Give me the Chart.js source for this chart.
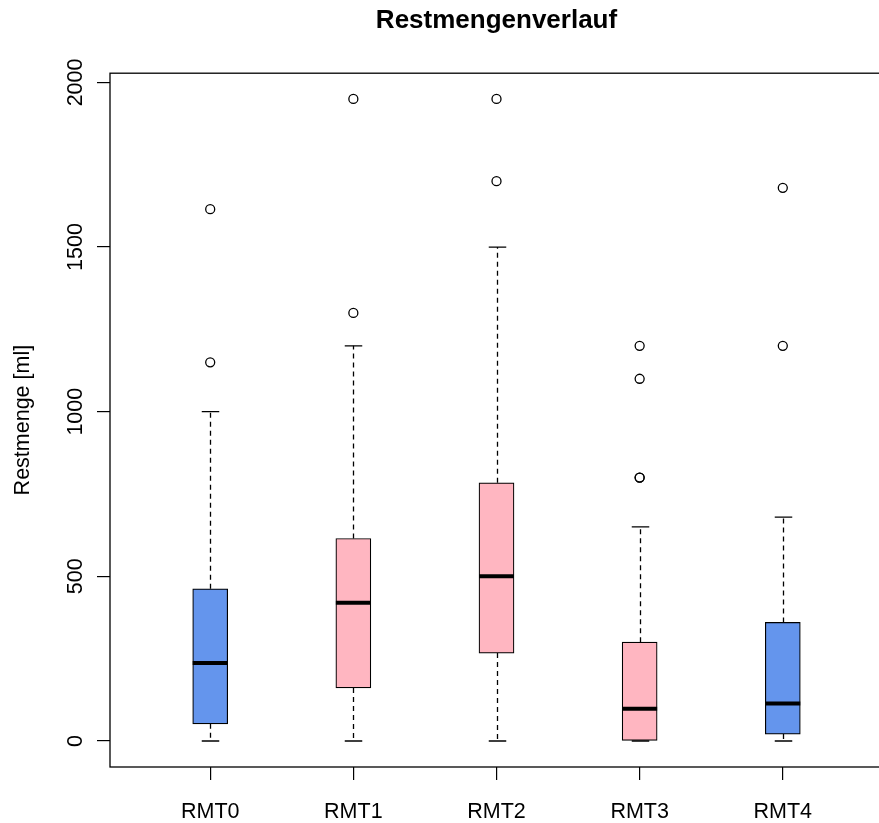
<!DOCTYPE html>
<html>
<head>
<meta charset="utf-8">
<title>Restmengenverlauf</title>
<script src="https://cdn.jsdelivr.net/npm/chart.js@4.4.1/dist/chart.umd.min.js"></script>
<style>
  html, body { margin: 0; padding: 0; background: #fff; overflow: hidden; }
  #chart { display: block; }
</style>
</head>
<body>
<canvas id="chart" width="900" height="823"></canvas>
<script>
// boxplot stats (ml)
const CATEGORIES = ["RMT0", "RMT1", "RMT2", "RMT3", "RMT4"];
const LOWER_WHISKER = [0, 0, 0, 0, 0];
const Q1 = [52, 161, 267, 0, 21];
const MEDIAN = [237, 420, 500, 98, 114];
const Q3 = [462, 615, 784, 300, 360];
const UPPER_WHISKER = [1000, 1200, 1500, 650, 680];
const OUTLIERS = [
  [1150, 1615],
  [1300, 1950],
  [1700, 1950],
  [800, 800, 1100, 1200],
  [1200, 1680]
];
const BOX_COLORS = ["#6495ed", "#ffb6c1", "#ffb6c1", "#ffb6c1", "#6495ed"];
const Y_TICKS = [0, 500, 1000, 1500, 2000];

const FONT = "'Liberation Sans', Arial, Helvetica, sans-serif";
const BOX_PX = 35;

// whiskers + staples behind the boxes, medians on top
const boxParts = {
  id: "boxParts",
  beforeDatasetsDraw(chart) {
    const { ctx, scales: { x, y } } = chart;
    const cap = BOX_PX / 4;
    ctx.save();
    ctx.strokeStyle = "#000";
    ctx.lineWidth = 1.3;
    CATEGORIES.forEach((_, i) => {
      const px = Math.round(x.getPixelForValue(i + 1)) + 0.5;
      ctx.setLineDash([5, 4]);
      ctx.beginPath();
      ctx.moveTo(px, y.getPixelForValue(Q3[i]));
      ctx.lineTo(px, y.getPixelForValue(UPPER_WHISKER[i]));
      ctx.moveTo(px, y.getPixelForValue(Q1[i]));
      ctx.lineTo(px, y.getPixelForValue(LOWER_WHISKER[i]));
      ctx.stroke();
      ctx.setLineDash([]);
      ctx.beginPath();
      for (const v of [UPPER_WHISKER[i], LOWER_WHISKER[i]]) {
        const py = y.getPixelForValue(v);
        ctx.moveTo(px - cap, py);
        ctx.lineTo(px + cap, py);
      }
      ctx.stroke();
    });
    ctx.restore();
  },
  afterDatasetsDraw(chart) {
    const { ctx, scales: { x, y } } = chart;
    ctx.save();
    ctx.strokeStyle = "#000";
    ctx.lineWidth = 4;
    CATEGORIES.forEach((_, i) => {
      const px = x.getPixelForValue(i + 1);
      const py = y.getPixelForValue(MEDIAN[i]);
      ctx.beginPath();
      ctx.moveTo(px - BOX_PX / 2, py);
      ctx.lineTo(px + BOX_PX / 2, py);
      ctx.stroke();
    });
    ctx.restore();
  },
  afterDraw(chart) {
    const { ctx, chartArea: a } = chart;
    ctx.save();
    ctx.strokeStyle = "#000";
    ctx.lineWidth = 1.3;
    ctx.strokeRect(a.left, a.top, a.right - a.left, a.bottom - a.top);
    ctx.restore();
  }
};

new Chart(document.getElementById("chart"), {
  type: "bar",
  data: {
    datasets: [
      {
        type: "scatter",
        data: OUTLIERS.flatMap((vals, i) => vals.map(v => ({ x: i + 1, y: v }))),
        pointStyle: "circle",
        pointRadius: 4.5,
        pointBorderWidth: 1.3,
        pointBorderColor: "#000",
        pointBackgroundColor: "rgba(0,0,0,0)",
        order: 0
      },
      {
        data: CATEGORIES.map((_, i) => ({ x: i + 1, y: [Q1[i], Q3[i]] })),
        backgroundColor: BOX_COLORS,
        borderColor: "#000",
        borderWidth: 1.2,
        borderSkipped: false,
        barThickness: BOX_PX,
        order: 1
      }
    ]
  },
  options: {
    responsive: false,
    devicePixelRatio: 1,
    animation: false,
    layout: { padding: { left: 0, right: 17, top: 0, bottom: 0 } },
    plugins: {
      legend: { display: false },
      tooltip: { enabled: false },
      title: {
        display: true,
        text: "Restmengenverlauf",
        fullSize: false,
        color: "#000",
        font: { family: FONT, size: 26, weight: "bold" },
        padding: { top: 5, bottom: 37 }
      }
    },
    scales: {
      x: {
        type: "linear",
        min: 0.3,
        max: 5.7,
        offset: false,
        afterBuildTicks: s => { s.ticks = CATEGORIES.map((_, i) => ({ value: i + 1 })); },
        afterFit: s => { s.height = 56; },
        ticks: {
          callback: v => CATEGORIES[v - 1],
          color: "#000",
          padding: 19,
          maxRotation: 0,
          autoSkip: false,
          font: { family: FONT, size: 21.5 }
        },
        grid: { offset: false, drawOnChartArea: false, drawTicks: true, tickLength: 13, color: "#000", lineWidth: 1.2 },
        border: { display: false }
      },
      y: {
        min: -79,
        max: 2028,
        afterBuildTicks: s => { s.ticks = Y_TICKS.map(v => ({ value: v })); },
        afterFit: s => { s.width = 110; },
        ticks: {
          callback: v => String(v),
          color: "#000",
          padding: -3,
          minRotation: 90,
          maxRotation: 90,
          crossAlign: "center",
          font: { family: FONT, size: 21.5 }
        },
        grid: { drawOnChartArea: false, drawTicks: true, tickLength: 13, color: "#000", lineWidth: 1.2 },
        border: { display: false },
        title: {
          display: true,
          text: "Restmenge [ml]",
          color: "#000",
          font: { family: FONT, size: 21.5 },
          padding: { top: 10, bottom: 0 }
        }
      }
    }
  },
  plugins: [boxParts]
});
</script>
</body>
</html>
